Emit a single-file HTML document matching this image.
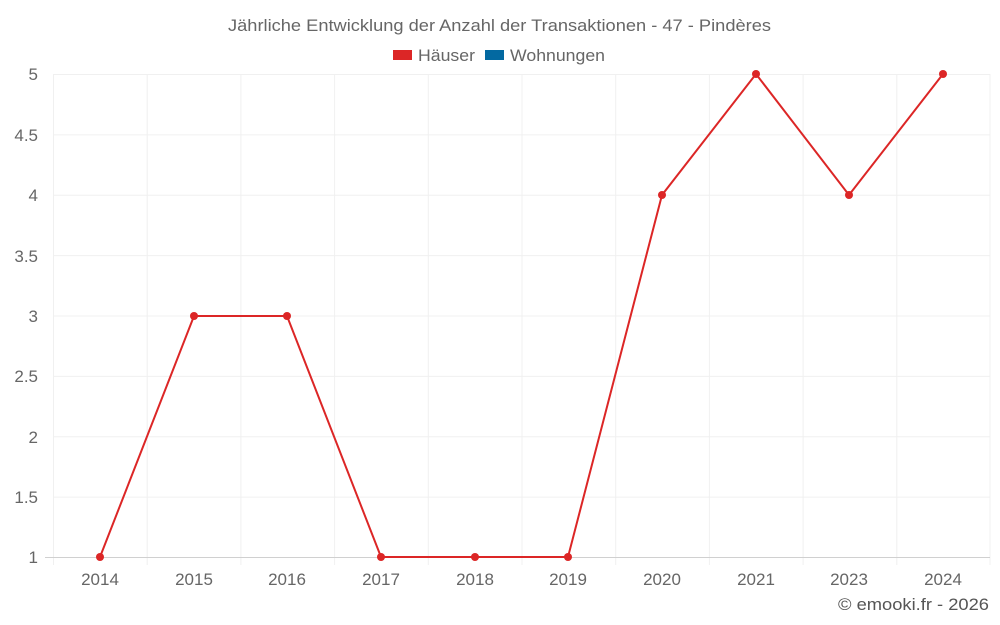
<!DOCTYPE html>
<html><head><meta charset="utf-8"><style>
body{margin:0;background:#fff;}
svg{display:block;font-family:"Liberation Sans",sans-serif;}
</style></head><body>
<svg width="1000" height="625" viewBox="0 0 1000 625">
<text x="228" y="31" font-size="17" fill="#666" textLength="543" lengthAdjust="spacingAndGlyphs">Jährliche Entwicklung der Anzahl der Transaktionen - 47 - Pindères</text>
<rect x="393" y="50" width="19" height="10" fill="#dc2626"/>
<text x="418" y="61" font-size="17" fill="#666" textLength="57" lengthAdjust="spacingAndGlyphs">Häuser</text>
<rect x="485" y="50" width="19" height="10" fill="#0369a1"/>
<text x="510" y="61" font-size="17" fill="#666" textLength="95" lengthAdjust="spacingAndGlyphs">Wohnungen</text>
<g stroke="#f0f0f0" stroke-width="1">
<line x1="53" y1="74.5" x2="990" y2="74.5"/>
<line x1="53" y1="134.9" x2="990" y2="134.9"/>
<line x1="53" y1="195.3" x2="990" y2="195.3"/>
<line x1="53" y1="255.6" x2="990" y2="255.6"/>
<line x1="53" y1="316" x2="990" y2="316"/>
<line x1="53" y1="376.4" x2="990" y2="376.4"/>
<line x1="53" y1="436.8" x2="990" y2="436.8"/>
<line x1="53" y1="497.1" x2="990" y2="497.1"/>
<line x1="53.5" y1="74" x2="53.5" y2="565"/>
<line x1="147.2" y1="74" x2="147.2" y2="565"/>
<line x1="240.9" y1="74" x2="240.9" y2="565"/>
<line x1="334.6" y1="74" x2="334.6" y2="565"/>
<line x1="428.3" y1="74" x2="428.3" y2="565"/>
<line x1="522" y1="74" x2="522" y2="565"/>
<line x1="615.7" y1="74" x2="615.7" y2="565"/>
<line x1="709.4" y1="74" x2="709.4" y2="565"/>
<line x1="803.1" y1="74" x2="803.1" y2="565"/>
<line x1="896.8" y1="74" x2="896.8" y2="565"/>
<line x1="990" y1="74" x2="990" y2="565"/>
</g>
<line x1="45" y1="557.5" x2="990" y2="557.5" stroke="#d0d0d0"/>
<g font-size="17" fill="#666" text-anchor="end">
<text x="38" y="80">5</text><text x="38" y="141">4.5</text><text x="38" y="201">4</text>
<text x="38" y="262">3.5</text><text x="38" y="322">3</text><text x="38" y="382">2.5</text>
<text x="38" y="443">2</text><text x="38" y="503">1.5</text><text x="38" y="563">1</text>
</g>
<g font-size="17" fill="#666" text-anchor="middle">
<text x="100" y="585">2014</text><text x="194" y="585">2015</text><text x="287" y="585">2016</text>
<text x="381" y="585">2017</text><text x="475" y="585">2018</text><text x="568" y="585">2019</text>
<text x="662" y="585">2020</text><text x="756" y="585">2021</text><text x="849" y="585">2023</text>
<text x="943" y="585">2024</text>
</g>
<polyline fill="none" stroke="#dc2626" stroke-width="2" points="100,557 194,316 287,316 381,557 475,557 568,557 662,195 756,74 849,195 943,74"/>
<g fill="#dc2626">
<circle cx="100" cy="557" r="4"/><circle cx="194" cy="316" r="4"/><circle cx="287" cy="316" r="4"/>
<circle cx="381" cy="557" r="4"/><circle cx="475" cy="557" r="4"/><circle cx="568" cy="557" r="4"/>
<circle cx="662" cy="195" r="4"/><circle cx="756" cy="74" r="4"/><circle cx="849" cy="195" r="4"/>
<circle cx="943" cy="74" r="4"/>
</g>
<text x="838" y="610" font-size="17" fill="#555" textLength="151" lengthAdjust="spacingAndGlyphs">© emooki.fr - 2026</text>
</svg>
</body></html>
